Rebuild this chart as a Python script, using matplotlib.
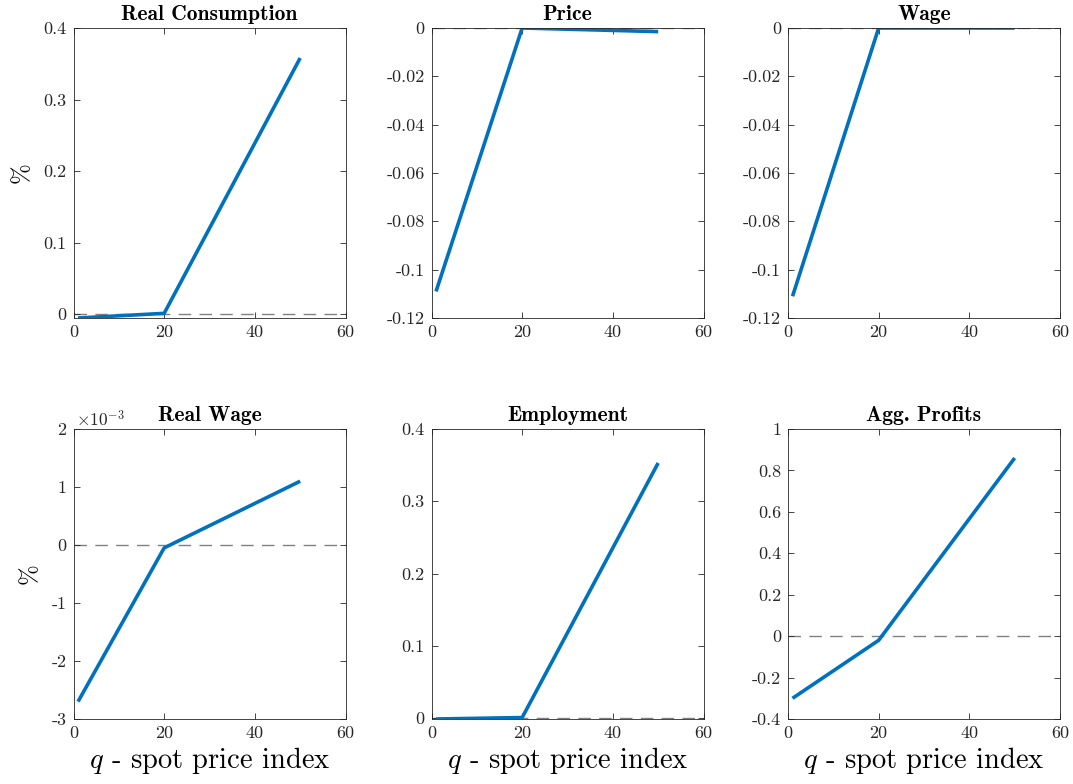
import matplotlib.pyplot as plt
from matplotlib.ticker import FuncFormatter

plt.rcParams['font.family'] = 'cmr10'
plt.rcParams['mathtext.fontset'] = 'cm'
plt.rcParams['axes.unicode_minus'] = False

# data
q = [1, 20, 50]
real_consumption = [-0.0055, 0.001, 0.358]
price = [-0.109, 0.0, -0.0015]
wage = [-0.111, 0.0, 0.0]
real_wage = [-2.7e-3, -0.05e-3, 1.1e-3]
employment = [-0.001, 0.001, 0.353]
agg_profits = [-0.30, -0.02, 0.86]

titles = ['Real Consumption', 'Price', 'Wage', 'Real Wage', 'Employment', 'Agg. Profits']
series = [real_consumption, price, wage, real_wage, employment, agg_profits]
ylims = [(-0.0055, 0.4), (-0.12, 0), (-0.12, 0), (-3e-3, 2e-3), (-0.001, 0.4), (-0.4, 1)]
yticks = [[0, 0.1, 0.2, 0.3, 0.4],
          [-0.12, -0.1, -0.08, -0.06, -0.04, -0.02, 0],
          [-0.12, -0.1, -0.08, -0.06, -0.04, -0.02, 0],
          [-3e-3, -2e-3, -1e-3, 0, 1e-3, 2e-3],
          [0, 0.1, 0.2, 0.3, 0.4],
          [-0.4, -0.2, 0, 0.2, 0.4, 0.6, 0.8, 1]]

W, H = 1073, 784
fig = plt.figure(figsize=(W / 100, H / 100), dpi=100)

lefts = [73.5, 431.5, 788]
tops = [28, 429]
aw, ah = 272, 290

for i, (title, y) in enumerate(zip(titles, series)):
    r, c = divmod(i, 3)
    ax = fig.add_axes([lefts[c] / W, (H - tops[r] - ah) / H, aw / W, ah / H])
    ax.axhline(0, color='#808080', lw=1.0, ls=(0, (9, 6)), zorder=1)
    ax.plot(q, y, color='#0072BD', lw=2.6, zorder=2, solid_capstyle='butt')
    ax.set_xlim(0, 60)
    ax.set_xticks([0, 20, 40, 60])
    ax.set_ylim(*ylims[i])
    ax.set_yticks(yticks[i])
    if title == 'Real Wage':
        ax.yaxis.set_major_formatter(FuncFormatter(lambda v, p: '%g' % round(v * 1e3, 6)))
        ax.text(0.01, 1.0, r'$\times10^{-3}$', transform=ax.transAxes,
                fontsize=12.5, color='#262626', ha='left', va='bottom')
    else:
        ax.yaxis.set_major_formatter(FuncFormatter(lambda v, p: '%g' % round(v, 6)))
    ax.tick_params(direction='in', top=True, right=True, labelsize=13,
                   colors='#262626', length=4, width=0.6, pad=5)
    for s in ax.spines.values():
        s.set_color('#262626')
        s.set_linewidth(0.6)
    ax.set_title(title, fontfamily='cmb10', fontsize=15.5, pad=6)
    if c == 0:
        ax.set_ylabel('%', fontsize=18, labelpad=8)
    if r == 1:
        ax.set_xlabel('$q$ - spot price index', fontsize=20.5, labelpad=3)

fig.savefig('out.png', dpi=100)
